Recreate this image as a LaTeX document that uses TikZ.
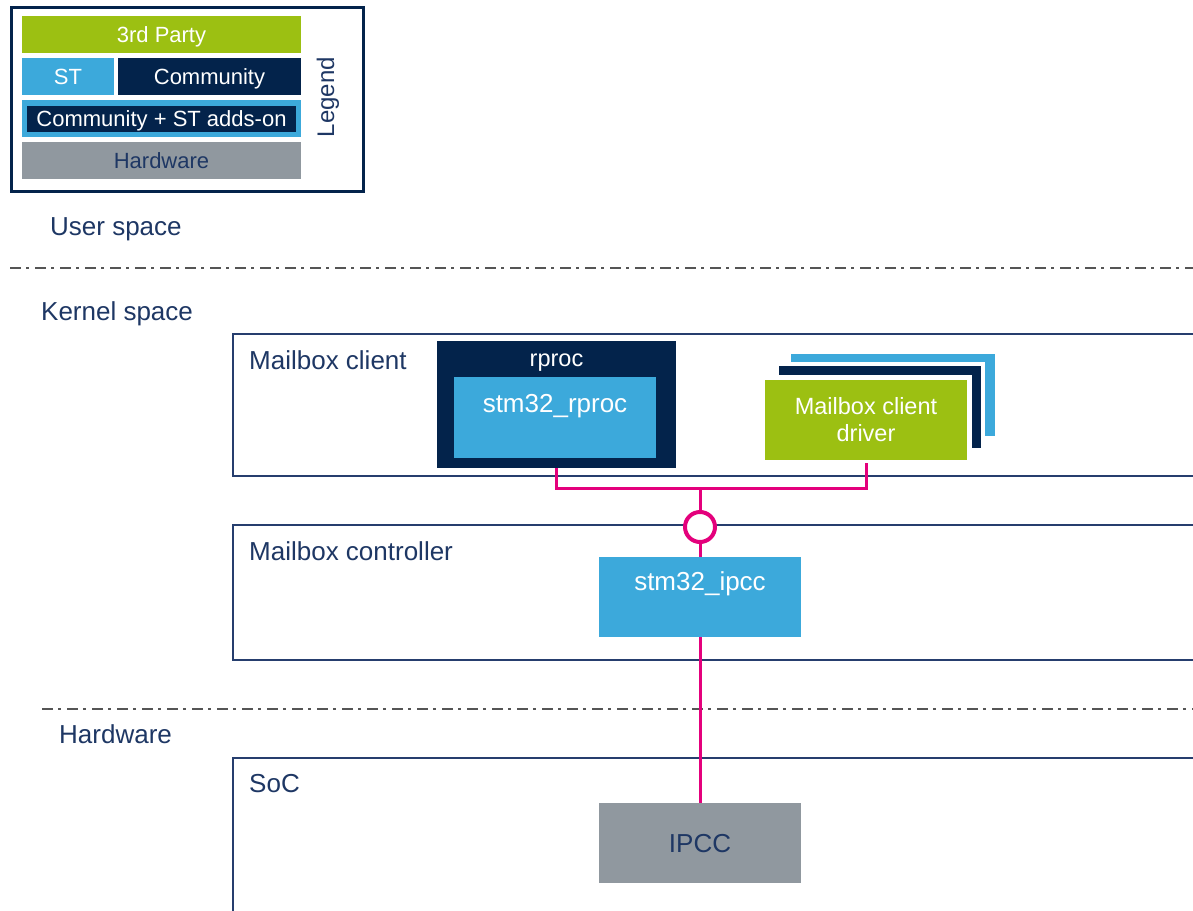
\documentclass[tikz,border=0pt]{standalone}
\usepackage{fontspec}
\setmainfont{Liberation Sans}
\definecolor{stgreen}{RGB}{156,192,18}
\definecolor{stblue}{RGB}{60,169,219}
\definecolor{stnavy}{RGB}{3,35,75}
\definecolor{stgray}{RGB}{144,152,159}
\definecolor{stpink}{RGB}{228,0,124}
\definecolor{lnavy}{RGB}{38,62,110}
\definecolor{tnavy}{RGB}{30,55,100}
\definecolor{dgray}{RGB}{85,85,85}
\newcommand\fsLeg{\fontsize{22}{26}\selectfont}
\newcommand\fsBig{\fontsize{26}{31}\selectfont}
\newcommand\fsMid{\fontsize{23.5}{27}\selectfont}
\begin{document}
\begin{tikzpicture}[x=1pt,y=-1pt,
  lab/.style={text=tnavy, font=\fsBig, inner sep=0, anchor=base west},
  region/.style={draw=lnavy, line width=2pt},
  blk/.style={inner sep=0, outer sep=0, anchor=north west},
  legtxt/.style={font=\fsLeg, text height=15.8pt, text depth=0pt},
  wtxt/.style={text=white, inner sep=0, anchor=base},
  wire/.style={draw=stpink, line width=3pt},
  dashdot/.style={draw=dgray, line width=2pt, dash pattern=on 11pt off 5pt on 3pt off 6pt}
]
\useasboundingbox (0,0) rectangle (1193,910);
\clip (0,0) rectangle (1193,910);
\fill[white] (0,0) rectangle (1193,910);

% Legend
\node[blk, draw=stnavy, line width=3pt, minimum width=352, minimum height=184] (legend) at (11.5,7.5) {};
\node[blk, fill=stgreen, minimum width=279, minimum height=37, text=white, legtxt] (third) at (22,16) {3rd Party};
\node[blk, fill=stblue, minimum width=92, minimum height=37, text=white, legtxt] (st) at (22,58) {ST};
\node[blk, fill=stnavy, minimum width=183, minimum height=37, text=white, legtxt] (comm) at (118,58) {Community};
\node[blk, fill=stblue, minimum width=279, minimum height=37] (commstout) at (22,100) {};
\node[blk, fill=stnavy, minimum width=269, minimum height=26, text=white, legtxt] (commst) at (27,106) {Community + ST adds-on};
\node[blk, fill=stgray, minimum width=279, minimum height=37, text=tnavy, legtxt] (hwleg) at (22,142) {Hardware};
\node[rotate=90, anchor=base, text=tnavy, font=\fontsize{24}{28}\selectfont, inner sep=0] (leglab) at (334,97) {Legend};

% Space labels and separators
\node[lab] (user) at (50,235) {User space};
\draw[dashdot] (10,268) -- (1193,268);
\node[lab] (kernel) at (41,320) {Kernel space};
\draw[dashdot] (42,709) -- (1193,709);
\node[lab] (hwspace) at (59,743) {Hardware};

% Regions
\node[blk, region, minimum width=990, minimum height=142] (mclient) at (233,334) {};
\node[lab] at (249,369) {Mailbox client};
\node[blk, region, minimum width=990, minimum height=135] (mctrl) at (233,525) {};
\node[lab] at (249,560) {Mailbox controller};
\node[blk, region, minimum width=990, minimum height=200] (soc) at (233,758) {};
\node[lab] at (249,792) {SoC};

% rproc
\node[blk, fill=stnavy, minimum width=239, minimum height=127] (rproc) at (437,341) {};
\node[wtxt, font=\fsMid] (rproclab) at (556.5,366) {rproc};
\node[blk, fill=stblue, minimum width=202, minimum height=81] (strproc) at (454,377) {};
\node[wtxt, font=\fsBig] (strproclab) at (555,412) {stm32\_rproc};

% Mailbox client driver stack
\node[blk, fill=stblue, minimum width=204, minimum height=82] (drvb) at (791,354) {};
\node[blk, fill=stnavy, draw=white, line width=4pt, minimum width=206, minimum height=86] (drvn) at (777,364) {};
\node[blk, fill=stgreen, draw=white, line width=5pt, minimum width=207, minimum height=85,
      align=center, text=white, font=\fsMid] (driver) at (762.5,377.5) {Mailbox client\\driver};

% Controller and hardware blocks
\node[blk, fill=stblue, minimum width=202, minimum height=80] (ipcc) at (599,557) {};
\node[wtxt, font=\fsBig] (ipcclab) at (700,590) {stm32\_ipcc};
\node[blk, fill=stgray, minimum width=202, minimum height=80, text=tnavy, font=\fsBig,
      text height=18.6pt, text depth=0pt] (hw) at (599,803) {IPCC};

% Connectors
\coordinate (bar) at (700,488);
\node[circle, draw=stpink, fill=white, line width=4pt, minimum size=30pt, inner sep=0] (circ) at (700,527) {};
\draw[wire] (rproc.south) |- (bar) -| (driver.south);
\draw[wire] (bar) -- (circ.north);
\draw[wire] (circ.south) -- (ipcc.north);
\draw[wire] (ipcc.south) -- (hw.north);
\end{tikzpicture}
\end{document}
